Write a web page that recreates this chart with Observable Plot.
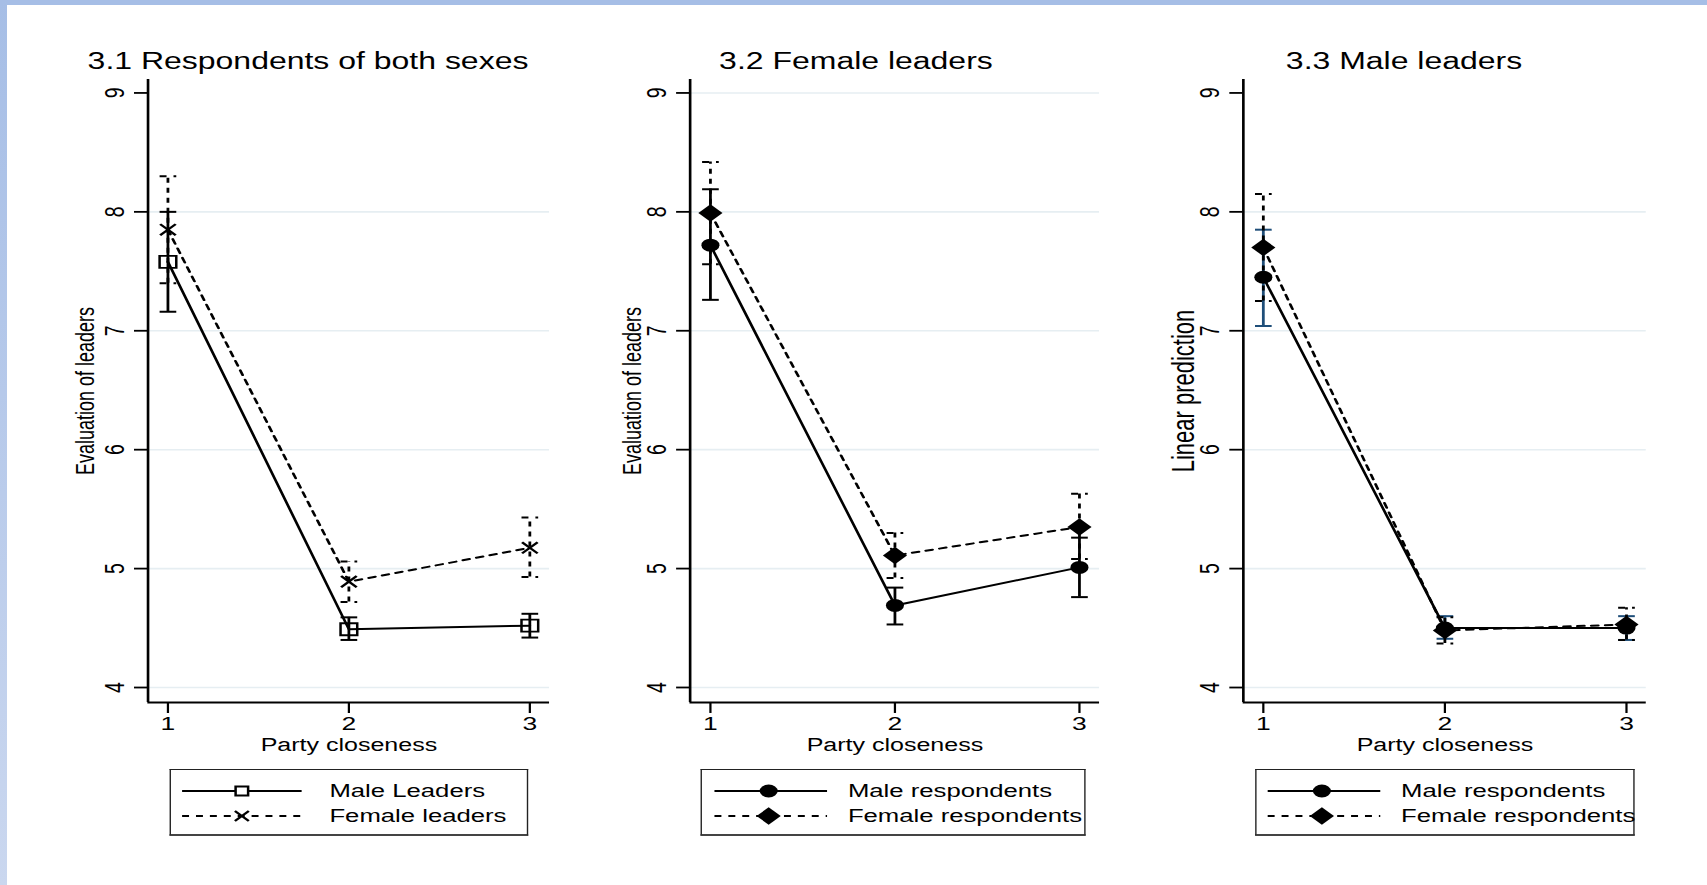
<!DOCTYPE html>
<html>
<head>
<meta charset="utf-8">
<script src="https://cdn.jsdelivr.net/npm/d3@7"></script>
<script src="https://cdn.jsdelivr.net/npm/@observablehq/plot@0.6"></script>
<style>
  html, body { margin: 0; padding: 0; background: #fff; width: 1707px; height: 885px; overflow: hidden;
    font-family: "Liberation Sans", Arial, Helvetica, sans-serif; }
  #topband { position: absolute; left: 0; top: 0; width: 1707px; height: 5px; background: #a6bee6; z-index: 2; }
  #leftband { position: absolute; left: 0; top: 0; width: 7px; height: 885px; background: linear-gradient(#a6bee6, #cad7ef); z-index: 2; }
  #stage { position: absolute; left: 0; top: 0; width: 1228px; height: 885px; transform: scaleX(1.39); transform-origin: 0 0; }
  .panel { position: absolute; top: 69px; }
  .title { position: absolute; top: 61px; font-size: 23px; line-height: 1; white-space: nowrap; transform: translate(-50%, -50%); color: #000; }
  .legend { position: absolute; top: 769px; height: 67px; box-sizing: border-box; border: 1.5px solid #222; border-bottom: 2px solid #444; background: #fff; }
  .legend svg { position: absolute; left: -1.5px; top: -1.5px; overflow: visible; }
</style>
</head>
<body>
<div id="topband"></div>
<div id="leftband"></div>
<div id="stage"></div>
<script>
// ---------- data ----------
const closeness = [1, 2, 3];
const yTicks = [4, 5, 6, 7, 8, 9];
const gridP1 = [4, 5, 6, 7, 8];
const gridP2 = [4, 5, 6, 7, 8, 9];
const gridP3 = [4, 5, 6, 7, 8];

const titles = ["3.1 Respondents of both sexes", "3.2 Female leaders", "3.3 Male leaders"];
const yLabels = ["Evaluation of leaders", "Evaluation of leaders", "Linear prediction"];
const xLabel = "Party closeness";
const legendP1 = ["Male Leaders", "Female leaders"];
const legendP23 = ["Male respondents", "Female respondents"];

// 3.1 Respondents of both sexes
const p1MaleEst = [7.58, 4.49, 4.52];
const p1MaleLo  = [7.16, 4.40, 4.42];
const p1MaleHi  = [8.00, 4.59, 4.62];
const p1FemEst  = [7.85, 4.89, 5.175];
const p1FemLo   = [7.40, 4.72, 4.93];
const p1FemHi   = [8.30, 5.06, 5.43];

// 3.2 Female leaders
const p2MaleEst = [7.72, 4.69, 5.01];
const p2MaleLo  = [7.26, 4.53, 4.76];
const p2MaleHi  = [8.19, 4.84, 5.26];
const p2FemEst  = [7.99, 5.11, 5.35];
const p2FemLo   = [7.56, 4.92, 5.08];
const p2FemHi   = [8.42, 5.30, 5.63];

// 3.3 Male leaders
const p3MaleEst = [7.45, 4.50, 4.50];
const p3MaleLo  = [7.04, 4.41, 4.40];
const p3MaleHi  = [7.85, 4.60, 4.60];
const p3FemEst  = [7.70, 4.48, 4.53];
const p3FemLo   = [7.25, 4.37, 4.40];
const p3FemHi   = [8.15, 4.59, 4.67];

const rows = (est, lo, hi) => closeness.map((x, i) => ({x, est: est[i], lo: lo[i], hi: hi[i]}));

// ---------- symbols ----------
const sym = (fn) => ({draw(ctx, size) { const h = Math.sqrt(size / Math.PI); fn(ctx, h); }});
const capSym = sym((c, h) => { c.moveTo(-h, 0); c.lineTo(h, 0); });
const squareSym = sym((c, h) => { c.rect(-h, -h, 2 * h, 2 * h); });
const timesSym = sym((c, h) => { c.moveTo(-h, -h); c.lineTo(h, h); c.moveTo(-h, h); c.lineTo(h, -h); });
const diamondSym = sym((c, h) => { c.moveTo(0, -h); c.lineTo(h, 0); c.lineTo(0, h); c.lineTo(-h, 0); c.closePath(); });
const circleSym = sym((c, h) => { c.moveTo(h, 0); c.arc(0, 0, h, 0, 2 * Math.PI); });

const xDomain = [0.89, 3.11];
const yDomain = [3.874, 9.113];
const ml = 75, mr = 8, mt = 10, mb = 62, frameH = 623;
const DASH = "5,5";

function seriesMarks(data, s) {
  const da = s.dash ? DASH : undefined;
  return [
    Plot.ruleX(data, {x: "x", y1: "lo", y2: "hi", stroke: s.ci, strokeWidth: 2, strokeDasharray: da}),
    Plot.dot(data, {x: "x", y: "hi", symbol: capSym, r: 6, stroke: s.ci, fill: "none", strokeWidth: 2, strokeDasharray: da}),
    Plot.dot(data, {x: "x", y: "lo", symbol: capSym, r: 6, stroke: s.ci, fill: "none", strokeWidth: 2, strokeDasharray: da}),
    Plot.line(data, {x: "x", y: "est", stroke: "#000", strokeWidth: 2, strokeDasharray: da}),
    Plot.dot(data, {x: "x", y: "est", symbol: s.symbol, r: s.r, fill: s.fill, stroke: "#000", strokeWidth: s.sw})
  ];
}

const panels = [
  {left: 30.8, inner: 289, titleX: 221.6, title: titles[0], ylabel: yLabels[0], ylSize: 18, ylOff: 52, grid: gridP1,
   A: {data: rows(p1MaleEst, p1MaleLo, p1MaleHi), symbol: squareSym, r: 6, fill: "none", sw: 1.8, ci: "#000", dash: false},
   B: {data: rows(p1FemEst, p1FemLo, p1FemHi), symbol: timesSym, r: 5.6, fill: "none", sw: 2, ci: "#000", dash: true},
   lg: {left: 121.6, width: 258.3, l0: 10, l1: 96, mx: 53, tx: 116, labels: legendP1,
        symA: squareSym, rA: 4.5, fillA: "none", symB: timesSym, rB: 5, fillB: "none"}},
  {left: 420.7, inner: 294.7, titleX: 615.8, title: titles[1], ylabel: yLabels[1], ylSize: 18, ylOff: 48, grid: gridP2,
   A: {data: rows(p2MaleEst, p2MaleLo, p2MaleHi), symbol: circleSym, r: 6.5, fill: "#000", sw: 0, ci: "#000", dash: false},
   B: {data: rows(p2FemEst, p2FemLo, p2FemHi), symbol: diamondSym, r: 8.7, fill: "#000", sw: 0, ci: "#000", dash: true},
   lg: {left: 504.3, width: 276.3, l0: 10, l1: 91, mx: 49, tx: 106, labels: legendP23,
        symA: circleSym, rA: 6.5, fillA: "#000", symB: diamondSym, rB: 8.7, fillB: "#000"}},
  {left: 819.2, inner: 290, titleX: 1010.1, title: titles[2], ylabel: yLabels[2], ylSize: 22, ylOff: 51, grid: gridP3,
   A: {data: rows(p3MaleEst, p3MaleLo, p3MaleHi), symbol: circleSym, r: 6.5, fill: "#000", sw: 0, ci: "#1f4e79", dash: false},
   B: {data: rows(p3FemEst, p3FemLo, p3FemHi), symbol: diamondSym, r: 8.7, fill: "#000", sw: 0, ci: "#000", dash: true},
   lg: {left: 902.9, width: 273.5, l0: 10, l1: 91, mx: 49, tx: 106, labels: legendP23,
        symA: circleSym, rA: 6.5, fillA: "#000", symB: diamondSym, rB: 8.7, fillB: "#000"}}
];

const stage = document.getElementById("stage");

for (const p of panels) {
  const chart = Plot.plot({
    width: ml + p.inner + mr,
    height: mt + frameH + mb,
    marginLeft: ml, marginRight: mr, marginTop: mt, marginBottom: mb,
    style: {fontFamily: "'Liberation Sans', Arial, Helvetica, sans-serif", fontSize: "19px", color: "#000", background: "transparent", overflow: "visible"},
    x: {domain: xDomain, label: null},
    y: {domain: yDomain, label: null},
    marks: [
      Plot.ruleY(p.grid, {stroke: "#e6eef2", strokeWidth: 1.6}),
      Plot.axisY({ticks: yTicks, tickRotate: -90, tickSize: 9.6, tickPadding: 7.7, label: null, fontSize: 19.5, strokeWidth: 1.8, tickFormat: d => String(d)}),
      Plot.axisX({ticks: closeness, tickSize: 11, tickPadding: 3, label: null, fontSize: 19, strokeWidth: 1.6, tickFormat: d => String(d)}),
      Plot.ruleX([xDomain[0]], {stroke: "#000", strokeWidth: 1.9}),
      Plot.ruleY([yDomain[0]], {stroke: "#000", strokeWidth: 1.9}),
      Plot.text([p.ylabel], {text: d => d, frameAnchor: "left", rotate: -90, dx: -p.ylOff, lineAnchor: "top", textAnchor: "middle", fontSize: p.ylSize, fill: "#000"}),
      Plot.text([xLabel], {text: d => d, frameAnchor: "bottom", dy: 43, lineAnchor: "middle", textAnchor: "middle", fontSize: 18, fill: "#000"}),
      ...seriesMarks(p.A.data, p.A),
      ...seriesMarks(p.B.data, p.B)
    ]
  });
  const wrap = document.createElement("div");
  wrap.className = "panel";
  wrap.style.left = p.left + "px";
  wrap.appendChild(chart);
  stage.appendChild(wrap);

  const t = document.createElement("div");
  t.className = "title";
  t.style.left = p.titleX + "px";
  t.textContent = p.title;
  stage.appendChild(t);

  // legend box
  const g = p.lg;
  const box = document.createElement("div");
  box.className = "legend";
  box.style.left = g.left + "px";
  box.style.width = g.width + "px";
  const svg = d3.create("svg").attr("width", g.width).attr("height", 67);
  const rowsY = [22, 47];
  const specs = [
    {dash: null, sym: g.symA, r: g.rA, fill: g.fillA},
    {dash: DASH, sym: g.symB, r: g.rB, fill: g.fillB}
  ];
  specs.forEach((s, i) => {
    svg.append("line").attr("x1", g.l0).attr("x2", g.l1).attr("y1", rowsY[i]).attr("y2", rowsY[i])
      .attr("stroke", "#000").attr("stroke-width", 2).attr("stroke-dasharray", s.dash);
    svg.append("path").attr("transform", `translate(${g.mx},${rowsY[i]})`)
      .attr("d", d3.symbol(s.sym, s.r * s.r * Math.PI)())
      .attr("fill", s.fill === "none" ? "#fff" : s.fill).attr("stroke", "#000").attr("stroke-width", s.fill === "none" ? 1.8 : 0);
    svg.append("text").attr("x", g.tx).attr("y", rowsY[i]).attr("dy", "0.35em")
      .attr("font-size", 18.5).attr("fill", "#000").text(g.labels[i]);
  });
  box.appendChild(svg.node());
  stage.appendChild(box);
}
</script>
</body>
</html>
